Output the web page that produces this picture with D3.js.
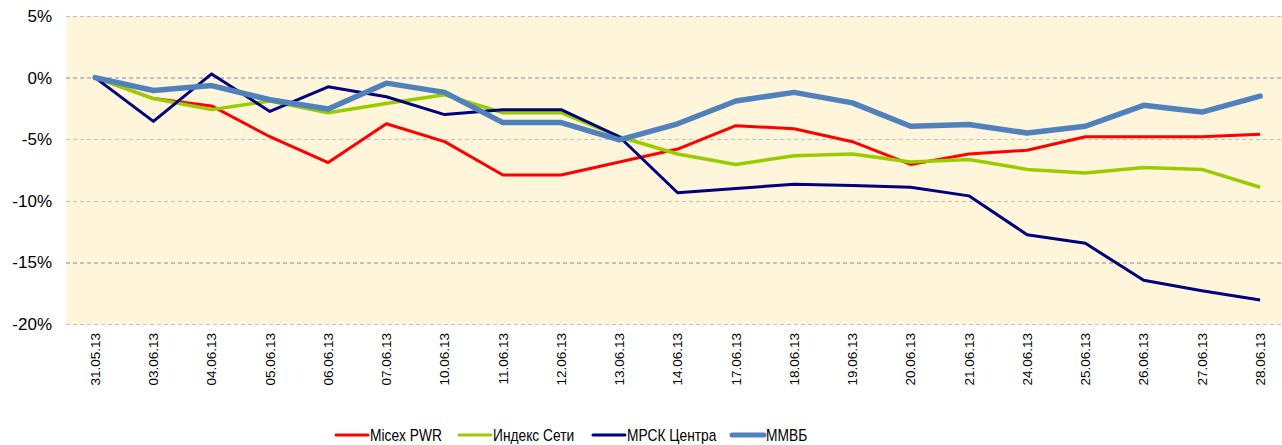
<!DOCTYPE html>
<html lang="ru">
<head>
    <meta charset="UTF-8">
    <title>Динамика индексов</title>
    <script src="https://d3js.org/d3.v7.min.js"></script>
    <style>
    body{
        margin: 0;
        background: #fff;
    }
    .grid line{
        stroke: #c0c0c0;
        stroke-width: 1.5;
        stroke-dasharray: 4,3;
        shape-rendering: crispEdges;
    }
    .grid path{ display: none; }
    .axis path, .axis line{ display: none; }
    .yaxis text{
        font-family: "Liberation Sans", Arial, sans-serif;
        font-size: 17px;
        fill: #000;
    }
    .xaxis text{
        font-family: "Liberation Sans", Arial, sans-serif;
        font-size: 13.5px;
        fill: #000;
    }
    .legend text{
        font-family: "Liberation Sans", Arial, sans-serif;
        font-size: 17px;
        fill: #000;
    }
    .line{
        fill: none;
        stroke-linejoin: round;
    }
    </style>
</head>
<body>
<script>
    var width = 1282;
    var height = 445;

    // даты
    var dates = ["31.05.13","03.06.13","04.06.13","05.06.13","06.06.13","07.06.13","10.06.13",
        "11.06.13","12.06.13","13.06.13","14.06.13","17.06.13","18.06.13","19.06.13","20.06.13",
        "21.06.13","24.06.13","25.06.13","26.06.13","27.06.13","28.06.13"];

    // ряды, %
    var micexPwr = [0,-1.7,-2.3,-4.8,-6.9,-3.75,-5.2,-7.9,-7.9,-6.85,-5.8,-3.9,-4.15,-5.2,-7.05,-6.2,-5.9,-4.8,-4.8,-4.8,-4.6];
    var indexSeti = [0,-1.7,-2.6,-1.9,-2.85,-2.1,-1.4,-2.85,-2.85,-4.8,-6.2,-7.05,-6.35,-6.2,-6.85,-6.65,-7.45,-7.75,-7.3,-7.45,-8.9];
    var mrsk = [0,-3.55,0.3,-2.75,-0.75,-1.55,-3.0,-2.6,-2.6,-4.8,-9.35,-9.0,-8.65,-8.75,-8.9,-9.6,-12.75,-13.45,-16.45,-17.3,-18.05];
    var micex = [0,-1.05,-0.65,-1.8,-2.55,-0.45,-1.2,-3.65,-3.65,-5.05,-3.75,-1.9,-1.2,-2.05,-3.95,-3.8,-4.5,-3.95,-2.25,-2.8,-1.5];

    var yTicks = [5,0,-5,-10,-15,-20];

    var seriesNames = ["Micex PWR","Индекс Сети","МРСК Центра","ММВБ"];
    var seriesColors = ["#ff0000","#99cc00","#000080","#4f81bd"];
    var seriesWidths = [3,3.5,3,5.5];
    var seriesData = [micexPwr, indexSeti, mrsk, micex];

    var plotLeft = 66, plotTop = 16, plotBottom = 324;
    var step = 58.25;
    var plotRight = plotLeft + step * dates.length;

    var svg = d3.select("body")
        .append("svg")
        .attr("width", width)
        .attr("height", height);

    //шкалы
    var xScale = d3.scaleBand()
        .domain(dates)
        .range([plotLeft, plotRight]);

    var yScale = d3.scaleLinear()
        .domain([-20, 5])
        .range([plotBottom, plotTop]);

    // фон
    svg.append("rect")
        .attr("x", plotLeft)
        .attr("y", plotTop)
        .attr("width", plotRight - plotLeft)
        .attr("height", plotBottom - plotTop)
        .attr("fill", "#fff5da");

    // сетка
    svg.append("g")
        .attr("class", "grid")
        .attr("transform", "translate(" + plotLeft + ",0)")
        .call(d3.axisRight(yScale).tickValues(yTicks).tickSize(plotRight - plotLeft).tickFormat(""));

    // ось Y
    svg.append("g")
        .attr("class", "axis yaxis")
        .attr("transform", "translate(" + plotLeft + ",0)")
        .call(d3.axisLeft(yScale).tickValues(yTicks).tickSize(0).tickPadding(14)
            .tickFormat(function(d) { return d + "%"; }));

    // ось X
    svg.append("g")
        .attr("class", "axis xaxis")
        .attr("transform", "translate(0," + plotBottom + ")")
        .call(d3.axisBottom(xScale).tickSize(0))
        .selectAll("text")
        .attr("text-anchor", "end")
        .attr("transform", "rotate(-90)")
        .attr("x", -9)
        .attr("y", 0)
        .attr("dy", "0.35em");

    // линии
    var line = d3.line()
        .x(function(d, i) { return xScale(dates[i]) + xScale.bandwidth() / 2; })
        .y(function(d) { return yScale(d); });

    svg.append("g")
        .selectAll("path")
        .data(seriesData)
        .enter()
        .append("path")
        .attr("class", "line")
        .attr("d", line)
        .attr("stroke", function(d, i) { return seriesColors[i]; })
        .attr("stroke-width", function(d, i) { return seriesWidths[i]; })
        .attr("stroke-linecap", function(d, i) { return i === 3 ? "round" : "butt"; });

    // легенда
    var legendX = [336, 459, 593, 732];
    var legend = svg.append("g")
        .attr("class", "legend")
        .selectAll("g")
        .data(seriesNames)
        .enter()
        .append("g")
        .attr("transform", function(d, i) { return "translate(" + legendX[i] + ",435)"; });

    legend.append("line")
        .attr("x1", 0)
        .attr("x2", 32)
        .attr("stroke", function(d, i) { return seriesColors[i]; })
        .attr("stroke-width", function(d, i) { return i === 3 ? 5 : 3; })
        .attr("stroke-linecap", "round");

    legend.append("text")
        .attr("x", 34)
        .attr("dy", "0.38em")
        .text(function(d) { return d; })
        .each(function() {
            var w = this.getComputedTextLength();
            d3.select(this).attr("textLength", w * 0.81).attr("lengthAdjust", "spacingAndGlyphs");
        });
</script>
</body>
</html>
